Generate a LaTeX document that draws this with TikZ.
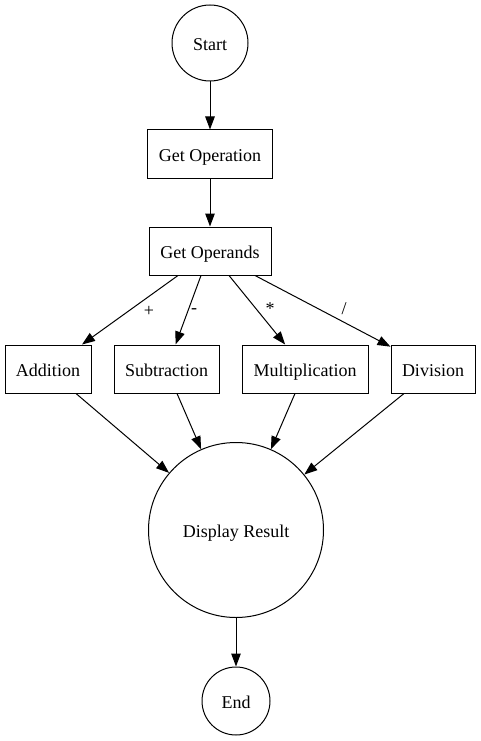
\documentclass[tikz,border=0pt]{standalone}
\usepackage{fontspec}
\setmainfont{Liberation Serif}
\usetikzlibrary{arrows.meta}
\begin{document}
\begin{tikzpicture}[x = 1pt, y = -1pt,
                    state/.style = {draw, circle, inner sep = 0pt, line width = 1pt, text height = 15pt, text depth = 0pt, font = \fontsize{18}{20}\selectfont},
                    stepbox/.style = {draw, rectangle, inner sep = 0pt, line width = 1pt, minimum height = 48pt, text height = 15pt, text depth = 0pt, font = \fontsize{18}{20}\selectfont},
                    edge/.style = {-{Triangle[length = 13pt, width = 9.5pt]}, line width = 1pt},
                    sign/.style = {inner sep = 0pt, font = \fontsize{18}{20}\selectfont}]
                            \useasboundingbox (0,0) rectangle (480,741);
                            \node[state, minimum size = 76pt] (start) at (210, 43) {Start};
                            \node[stepbox, minimum width = 125pt] (getop) at (210, 154) {Get Operation};
                            \node[stepbox, minimum width = 122pt] (opnds) at (210, 251) {Get Operands};
                            \node[stepbox, minimum width = 86pt] (add) at (48, 369) {Addition};
                            \node[stepbox, minimum width = 105pt] (sub) at (166.5, 369) {Subtraction};
                            \node[stepbox, minimum width = 126pt] (mul) at (305, 369) {Multiplication};
                            \node[stepbox, minimum width = 84pt] (div) at (433, 369) {Division};
                            \node[state, minimum size = 175pt] (disp) at (236, 530) {Display Result};
                            \node[state, minimum size = 68pt] (end) at (236, 701) {End};
                            
                            \draw[edge] (start) -- (getop);
                            \draw[edge] (getop) -- (opnds);
                            \draw[edge] ([xshift = -32pt]opnds.south) -- (add);
                            \draw[edge] ([xshift = -9pt]opnds.south) -- (sub);
                            \draw[edge] ([xshift = 19pt]opnds.south) -- (mul);
                            \draw[edge] ([xshift = 45pt]opnds.south) -- (div);
                            \node[sign] (plus) at (149, 311) {+};
                            \node[sign] (minus) at (194, 311) {-};
                            \node[sign] (times) at (270, 309) {*};
                            \node[sign] (slash) at (344, 309) {/};
                            
                            \draw[edge] ([xshift = 28pt]add.south) -- (disp);
                            \draw[edge] ([xshift = 10.5pt]sub.south) -- (disp);
                            \draw[edge] ([xshift = -10pt]mul.south) -- (disp);
                            \draw[edge] ([xshift = -29pt]div.south) -- (disp);
                            \draw[edge] (disp) -- (end);
                        \end{tikzpicture}
\end{document}
